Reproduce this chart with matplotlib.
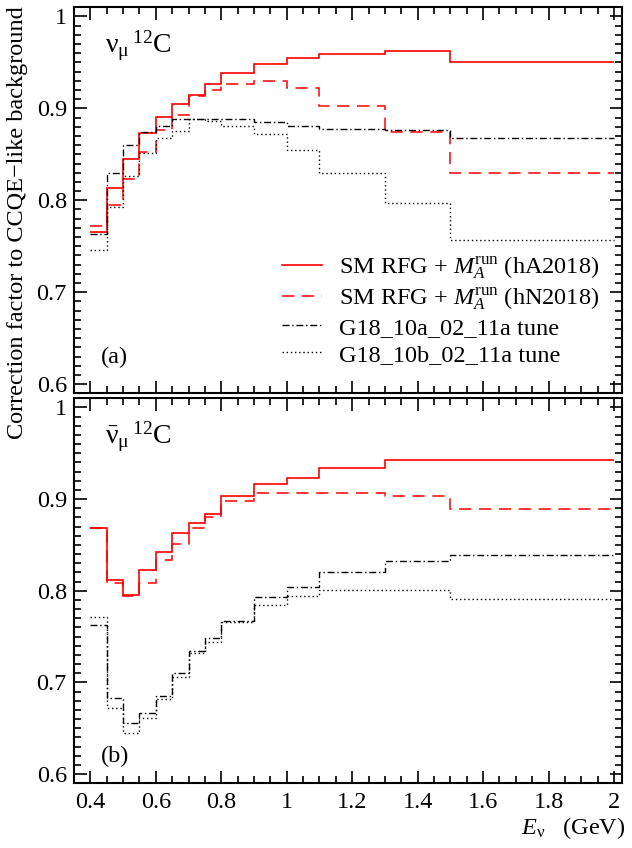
import numpy as np
import matplotlib
matplotlib.use("Agg")
import matplotlib.pyplot as plt
from matplotlib.ticker import MultipleLocator, FuncFormatter

plt.rcParams['font.family'] = ['Liberation Serif', 'DejaVu Serif']
plt.rcParams['mathtext.fontset'] = 'custom'
plt.rcParams['mathtext.rm'] = 'Liberation Serif'
plt.rcParams['mathtext.it'] = 'Liberation Serif:italic'
plt.rcParams['mathtext.bf'] = 'Liberation Serif:bold'
plt.rcParams['font.size'] = 17.5

# bin edges in neutrino energy (GeV)
edges = [0.4, 0.45, 0.5, 0.55, 0.6, 0.65, 0.7, 0.75, 0.8, 0.9, 1.0, 1.1, 1.3, 1.5, 2.0]

# (a) numu on 12C
nu_hA = [0.766, 0.813, 0.845, 0.873, 0.891, 0.905, 0.915, 0.926, 0.938, 0.948, 0.955, 0.959, 0.962, 0.950]
nu_hN = [0.772, 0.795, 0.823, 0.853, 0.877, 0.893, 0.914, 0.920, 0.926, 0.930, 0.922, 0.903, 0.874, 0.830]
nu_10a = [0.763, 0.830, 0.860, 0.874, 0.881, 0.888, 0.889, 0.888, 0.888, 0.885, 0.881, 0.878, 0.876, 0.868]
nu_10b = [0.746, 0.793, 0.826, 0.851, 0.868, 0.875, 0.888, 0.886, 0.881, 0.872, 0.855, 0.830, 0.797, 0.757]

# (b) numubar on 12C
nb_hA = [0.868, 0.812, 0.795, 0.823, 0.842, 0.863, 0.874, 0.884, 0.903, 0.917, 0.923, 0.934, 0.943, 0.943]
nb_hN = [0.868, 0.809, 0.794, 0.808, 0.834, 0.851, 0.869, 0.880, 0.898, 0.907, 0.907, 0.907, 0.903, 0.889]
nb_10a = [0.763, 0.683, 0.656, 0.667, 0.685, 0.710, 0.734, 0.748, 0.767, 0.793, 0.804, 0.820, 0.833, 0.839]
nb_10b = [0.771, 0.672, 0.645, 0.661, 0.682, 0.706, 0.732, 0.744, 0.766, 0.785, 0.794, 0.801, 0.801, 0.791]

labels = [r'SM RFG + $M_A^{\mathrm{run}}$ (hA2018)',
          r'SM RFG + $M_A^{\mathrm{run}}$ (hN2018)',
          'G18_10a_02_11a tune',
          'G18_10b_02_11a tune']
styles = [dict(color='red', linestyle='-', lw=1.2),
          dict(color='red', linestyle=(0, (8, 5)), lw=1.1),
          dict(color='black', linestyle=(0, (5, 2, 1, 2)), lw=1.0),
          dict(color='black', linestyle=(0, (1, 2)), lw=1.0)]

fig = plt.figure(figsize=(6.32, 8.48), dpi=100)
ax1 = fig.add_axes([0.117, 0.5362, 0.867, 0.4552])
ax2 = fig.add_axes([0.117, 0.0763, 0.867, 0.454])

fmt = FuncFormatter(lambda v, p: '%g' % round(v, 3))

for ax, series in [(ax1, [nu_hA, nu_hN, nu_10a, nu_10b]),
                   (ax2, [nb_hA, nb_hN, nb_10a, nb_10b])]:
    handles = []
    for vals, st, lab in zip(series, styles, labels):
        ax.stairs(vals, edges, baseline=None, **st)
        h, = ax.plot([], [], label=lab, **st)
        handles.append(h)
    ax.set_xlim(0.35, 2.024)
    ax.set_ylim(0.59, 1.01)
    ax.xaxis.set_major_locator(MultipleLocator(0.2))
    ax.xaxis.set_minor_locator(MultipleLocator(0.05))
    ax.yaxis.set_major_locator(MultipleLocator(0.1))
    ax.yaxis.set_minor_locator(MultipleLocator(0.01))
    ax.xaxis.set_major_formatter(fmt)
    ax.yaxis.set_major_formatter(fmt)
    ax.tick_params(which='both', direction='in', top=True, right=True, width=1.2)
    ax.tick_params(which='major', length=9, pad=6)
    ax.tick_params(which='minor', length=5)
    ax.tick_params(axis='y', which='major', pad=5)
    for s in ax.spines.values():
        s.set_linewidth(1.5)

ax1.tick_params(labelbottom=False)

ax1.text(0.057, 0.945, r'$\mathrm{\nu_{\mu}\,^{12}C}$', transform=ax1.transAxes,
         ha='left', va='top', fontsize=20)
ax2.text(0.057, 0.945, r'$\mathrm{\bar{\nu}_{\mu}\,^{12}C}$', transform=ax2.transAxes,
         ha='left', va='top', fontsize=20)
ax1.text(0.05, 0.094, '(a)', transform=ax1.transAxes, ha='left', va='center')
ax2.text(0.05, 0.07, '(b)', transform=ax2.transAxes, ha='left', va='center')

ax1.legend(handles=handles, loc='center left', bbox_to_anchor=(0.379, 0.216),
           frameon=False, borderpad=0, borderaxespad=0, handlelength=1.65,
           handletextpad=0.7, labelspacing=0.2, fontsize=17.5)

fig.text(0.027, 0.738, 'Correction factor to CCQE\u2212like background',
         rotation=90, ha='center', va='center', fontsize=17.5)
fig.text(0.989, 0.0165, r'$E_{\mathrm{\nu}}$   (GeV)', ha='right', va='baseline', fontsize=17.5)

fig.savefig('out.png', dpi=100)
plt.close()
